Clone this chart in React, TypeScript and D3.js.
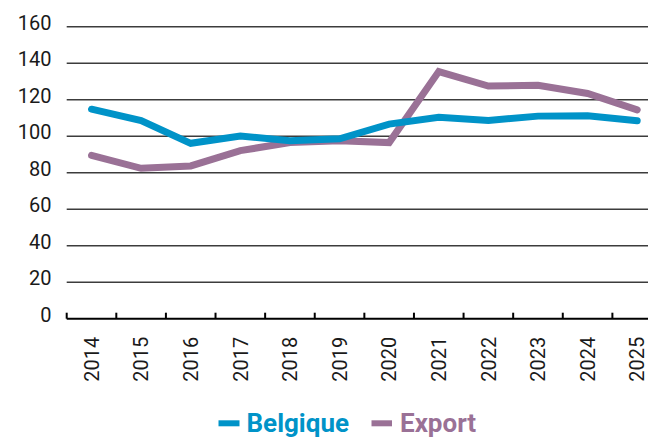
import React from "react";
import * as d3 from "d3";

const years = ["2014", "2015", "2016", "2017", "2018", "2019", "2020", "2021", "2022", "2023", "2024", "2025"];
const belgique = [114.8, 108.6, 96.1, 100.1, 97.5, 98.6, 106.6, 110.4, 108.6, 111.0, 111.2, 108.5];
const exportVals = [89.5, 82.4, 83.7, 92.1, 96.5, 97.5, 96.5, 135.4, 127.5, 127.9, 123.4, 114.4];
const yTicks = [0, 20, 40, 60, 80, 100, 120, 140, 160];

const W = 648;
const H = 437;
const BLUE = "#0093c8";
const PURPLE = "#9a7196";
const FONT = "Roboto, 'Noto Sans', sans-serif";

const App = () => {
  const margin = { top: 26.7, left: 66.7, bottom: 318.7, right: 662 };

  const x = d3.scaleBand<string>().domain(years).range([margin.left, margin.right]).padding(0);
  const y = d3.scaleLinear().domain([0, 160]).range([margin.bottom, margin.top]);

  const line = d3
    .line<number>()
    .x((_, i) => (x(years[i]) as number) + x.bandwidth() / 2)
    .y(d => y(d));

  // tick marks at band boundaries
  const bounds = years.map(yr => x(yr) as number).concat([margin.right]);

  return (
    <svg
      width={W}
      height={H}
      style={{ position: "absolute", left: 0, top: 0, background: "#fff" }}
      fontFamily={FONT}
    >
      {yTicks.map(t => (
        <g key={t}>
          {t > 0 && (
            <line x1={margin.left} x2={margin.right} y1={y(t)} y2={y(t)} stroke="#3c3c3c" strokeWidth={1.5} />
          )}
          <text x={51.5} y={y(t) + 3} textAnchor="end" fontSize={20} fill="#1a1a1a">
            {t}
          </text>
        </g>
      ))}

      <line x1={margin.left} x2={margin.right} y1={y(0)} y2={y(0)} stroke="#000" strokeWidth={2} />
      {bounds.map((b, i) => (
        <line key={i} x1={b} x2={b} y1={y(0)} y2={y(0) - 6} stroke="#000" strokeWidth={2} />
      ))}

      {years.map(yr => (
        <text
          key={yr}
          transform={`translate(${(x(yr) as number) + x.bandwidth() / 2},336.7) rotate(-90)`}
          textAnchor="end"
          dy="0.36em"
          fontSize={20}
          fill="#1a1a1a"
        >
          {yr}
        </text>
      ))}

      <path d={line(exportVals) || ""} fill="none" stroke={PURPLE} strokeWidth={7} strokeLinecap="round" />
      <path d={line(belgique) || ""} fill="none" stroke={BLUE} strokeWidth={7} strokeLinecap="round" />

      <g fontWeight="bold" fontSize={26}>
        <line x1={218.5} x2={239.5} y1={423.3} y2={423.3} stroke={BLUE} strokeWidth={6} />
        <text x={246.5} y={432.3} fill={BLUE}>Belgique</text>
        <line x1={371.5} x2={392} y1={423.3} y2={423.3} stroke={PURPLE} strokeWidth={6} />
        <text x={400} y={432.3} fill={PURPLE}>Export</text>
      </g>
    </svg>
  );
};

export default App;
